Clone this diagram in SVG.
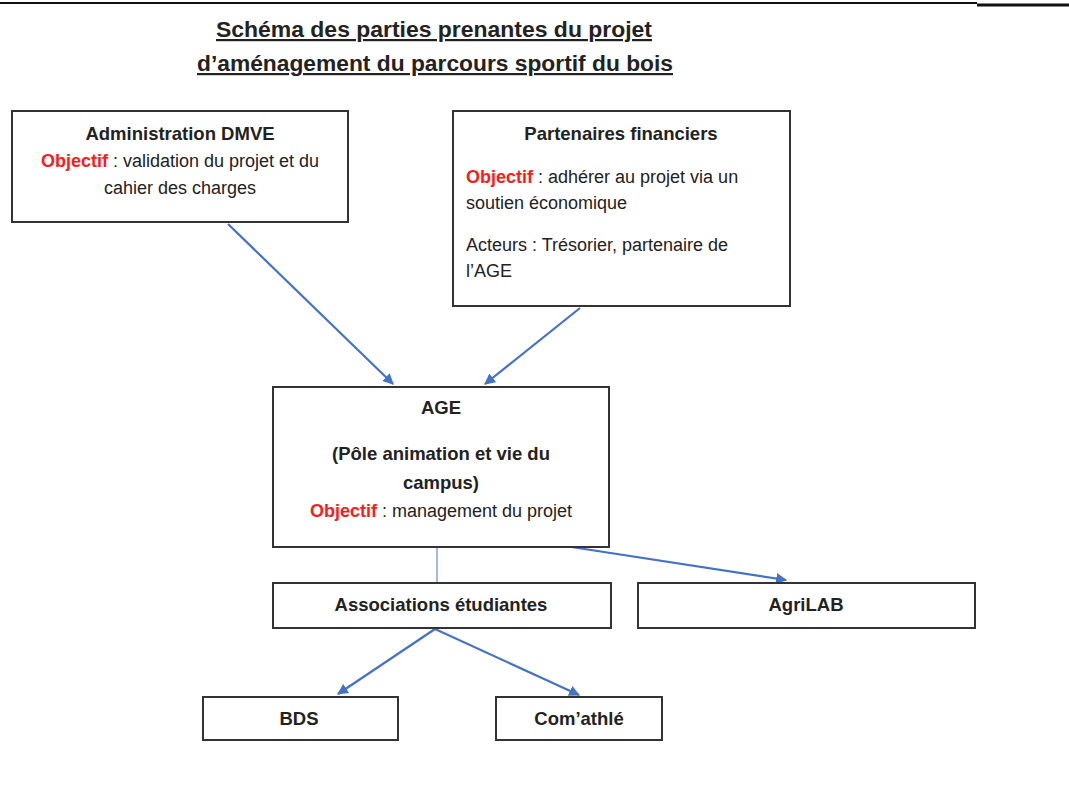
<svg xmlns="http://www.w3.org/2000/svg" width="1069" height="794" viewBox="0 0 1069 794">
<style>
text{font-family:"Liberation Sans",Arial,sans-serif;fill:#222;}
.t{font-size:22px;font-weight:bold;text-decoration:underline;text-anchor:middle;}
.h{font-size:18.5px;font-weight:bold;}
.b{font-size:18px;}
.c{text-anchor:middle;}
.r{fill:#ff1a1a;font-weight:bold;}
.box{fill:#fff;stroke:#333;stroke-width:2;}
.con{stroke:#4472c4;stroke-width:2.2;fill:none;}
</style>
<defs>
<marker id="ah" viewBox="0 0 10 10" refX="9" refY="5" markerWidth="5" markerHeight="5" orient="auto" markerUnits="strokeWidth">
<path d="M0,0 L10,5 L0,10 z" fill="#4472c4"/>
</marker>
</defs>
<rect width="1069" height="794" fill="#fff"/>
<line x1="0" y1="3" x2="977" y2="3" stroke="#111" stroke-width="2"/>
<line x1="977" y1="5" x2="1069" y2="5" stroke="#111" stroke-width="3"/>
<g id="title">
<text class="t" x="434" y="37" textLength="436" lengthAdjust="spacingAndGlyphs">Schéma des parties prenantes du projet</text>
<text class="t" x="435" y="71" textLength="476" lengthAdjust="spacingAndGlyphs">d’aménagement du parcours sportif du bois</text>
</g>
<g id="connectors">
<line class="con" x1="228" y1="224" x2="393" y2="384" marker-end="url(#ah)"/>
<line class="con" x1="580" y1="308" x2="485" y2="384" marker-end="url(#ah)"/>
<line x1="437" y1="548" x2="437" y2="583" stroke="#4472c4" stroke-width="1"/>
<line class="con" x1="565" y1="546" x2="786" y2="580" marker-end="url(#ah)"/>
<line class="con" x1="435" y1="629" x2="338" y2="694" marker-end="url(#ah)"/>
<line class="con" x1="435" y1="629" x2="579" y2="695" marker-end="url(#ah)"/>
</g>
<g id="dmve">
<rect class="box" x="12" y="111" width="336" height="111"/>
<text class="h c" x="180" y="140">Administration DMVE</text>
<text class="b c" x="180" y="167"><tspan class="r">Objectif</tspan> : validation du projet et du</text>
<text class="b c" x="180" y="194">cahier des charges</text>
</g>
<g id="partenaires">
<rect class="box" x="453" y="111" width="337" height="195"/>
<text class="h c" x="621" y="140">Partenaires financiers</text>
<text class="b" x="466" y="183"><tspan class="r">Objectif</tspan> : adhérer au projet via un</text>
<text class="b" x="466" y="209">soutien économique</text>
<text class="b" x="466" y="251">Acteurs : Trésorier, partenaire de</text>
<text class="b" x="466" y="277">l’AGE</text>
</g>
<g id="age">
<rect class="box" x="273" y="387" width="336" height="160"/>
<text class="h c" x="441" y="414">AGE</text>
<text class="h c" x="441" y="460">(Pôle animation et vie du</text>
<text class="h c" x="441" y="489">campus)</text>
<text class="b c" x="441" y="517"><tspan class="r">Objectif</tspan> : management du projet</text>
</g>
<g id="associations">
<rect class="box" x="273" y="583" width="338" height="45"/>
<text class="h c" x="441" y="611">Associations étudiantes</text>
</g>
<g id="agrilab">
<rect class="box" x="638" y="583" width="337" height="45"/>
<text class="h c" x="806" y="611">AgriLAB</text>
</g>
<g id="bds">
<rect class="box" x="203" y="697" width="195" height="43"/>
<text class="h c" x="299" y="725">BDS</text>
</g>
<g id="comathle">
<rect class="box" x="496" y="697" width="166" height="43"/>
<text class="h c" x="579" y="725">Com’athlé</text>
</g>
</svg>
